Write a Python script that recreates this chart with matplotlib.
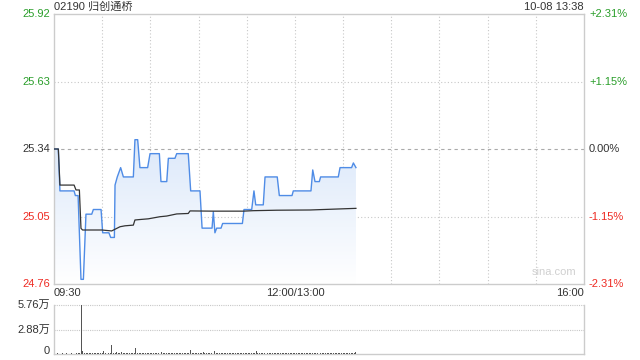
import matplotlib
matplotlib.use("Agg")
import matplotlib.pyplot as plt
import numpy as np
from matplotlib.patches import Polygon

plt.rcParams['font.family'] = ['Liberation Sans', 'Noto Sans CJK SC', 'DejaVu Sans']

# ---- data ----
title = "02190 归创通桥"
stamp = "10-08 13:38"
prev_close = 25.34
y_ticks = [24.76, 25.05, 25.34, 25.63, 25.92]
y_tick_labels = ["24.76", "25.05", "25.34", "25.63", "25.92"]
pct_labels = ["-2.31%", "-1.15%", "0.00%", "+1.15%", "+2.31%"]
x_tick_minutes = [0, 150, 330]
x_tick_labels = ["09:30", "12:00/13:00", "16:00"]

# price breakpoints (minutes since 09:30, lunch break removed)
price_t = [0, 2.7, 3.7, 12.5, 13.3, 15.0, 16.8, 18.3, 19.9, 23.5, 24.5, 29.3, 30.3,
           34.2, 35.3, 37.6, 38.0, 39.4, 41.5, 43.2, 49.4, 50.4, 52.1, 53.5, 58.3,
           59.8, 65.6, 66.6, 70.2, 71.2, 75.3, 76.4, 83.6, 85.1, 90.9, 92.2, 98.4,
           99.2, 100.2, 101.3, 104.0, 105.0, 117.3, 118.3, 123.1, 124.5, 125.6,
           130.3, 131.4, 139.0, 140.3, 148.2, 149.0, 160.0, 161.1, 162.5, 165.2,
           166.0, 177.0, 178.1, 185.3, 186.4, 188.0]
price_v = [25.34, 25.34, 25.16, 25.16, 25.14, 25.14, 24.78, 24.78, 25.06, 25.06, 25.08, 25.08, 24.98,
           24.98, 24.96, 24.96, 25.185, 25.22, 25.26, 25.22, 25.22, 25.38, 25.38, 25.26, 25.26,
           25.32, 25.32, 25.20, 25.20, 25.30, 25.30, 25.32, 25.32, 25.16, 25.16, 25.00, 25.00,
           25.07, 24.98, 25.00, 25.00, 25.02, 25.02, 25.08, 25.08, 25.16, 25.10,
           25.10, 25.22, 25.22, 25.14, 25.14, 25.16, 25.16, 25.25, 25.20, 25.20,
           25.22, 25.22, 25.26, 25.26, 25.28, 25.26]

avg_t = [0, 2.7, 3.7, 12.5, 13.7, 15.8, 16.8, 17.8, 29.7, 35.9, 41.1, 44.2, 49.4, 50.4,
         53.5, 58.7, 65.9, 70.2, 76.4, 83.6, 84.7, 99.2, 117.9, 124.1, 138.6, 159.4, 188.0]
avg_v = [25.34, 25.34, 25.185, 25.185, 25.164, 25.164, 24.999, 24.992, 24.992, 24.988, 25.006,
         25.010, 25.013, 25.035, 25.037, 25.040, 25.049, 25.052, 25.061, 25.063, 25.074,
         25.073, 25.073, 25.075, 25.077, 25.078, 25.085]

volume = [600, 500, 700, 400, 500, 600, 400, 500, 700, 500, 400, 600, 500, 400, 600, 700, 900, 57600, 3900, 1500,
          900, 700, 800, 600, 900, 700, 600, 800, 700, 900, 1200, 4000, 800, 700, 900, 1000, 11000, 1300, 900, 2500,
          1200, 900, 2000, 1100, 800, 1300, 900, 700, 1000, 800, 1200, 7000, 1000, 800, 900, 700, 1100, 800, 900, 700,
          800, 1000, 700, 900, 800, 1100, 900, 2000, 800, 700, 900, 1000, 800, 700, 1200, 900, 800, 1000, 700, 900,
          800, 700, 1000, 900, 800, 4700, 900, 700, 1100, 800, 900, 700, 1000, 2500, 800, 700, 900, 800, 700, 900,
          3000, 1000, 800, 700, 900, 800, 700, 900, 1000, 800, 700, 900, 800, 700, 800, 900, 700, 800, 900, 700,
          800, 700, 900, 800, 700, 800, 3000, 900, 800, 700, 800, 900, 700, 800, 700, 900, 800, 700, 800, 900,
          700, 800, 900, 700, 800, 700, 900, 800, 700, 800, 900, 700, 800, 900, 700, 800, 700, 900, 800, 700,
          800, 900, 700, 800, 700, 900, 800, 700, 800, 900, 700, 800, 700, 900, 800, 700, 800, 900, 700, 800,
          900, 700, 800, 700, 900, 800, 700, 900, 2000]
vol_ticks = [0, 28800, 57600]
vol_tick_labels = ["0", "2.88万", "5.76万"]

GREEN = '#2a9e2a'
RED = '#ee2a22'
DARK = '#333333'
GRID = '#c8c8c8'
BORDER = '#cccccc'
BLUE = '#4f8ce6'

fig = plt.figure(figsize=(6.4, 3.6), dpi=100)
ax = fig.add_axes([54/640, 1-284/360, 530/640, 270/360])
axv = fig.add_axes([54/640, 1-354/360, 530/640, 49/360])

xmin, xmax = 0, 330
ymin, ymax = y_ticks[0], y_ticks[-1]
ax.set_xlim(xmin, xmax)
ax.set_ylim(ymin, ymax)

# gradient fill under price
pt = np.array(price_t); pv = np.array(price_v)
poly_xy = np.column_stack([np.concatenate([pt, [pt[-1], pt[0]]]),
                           np.concatenate([pv, [ymin, ymin]])])
poly = Polygon(poly_xy, closed=True, facecolor='none', edgecolor='none')
ax.add_patch(poly)
grad = np.linspace(0, 1, 256).reshape(-1, 1)
top_c = np.array([0.86, 0.91, 0.98]); bot_c = np.array([1.0, 1.0, 1.0])
img = grad[::-1] * top_c + (1 - grad[::-1]) * bot_c  # top row first
img = np.repeat(img[:, None, :], 2, axis=1)
im = ax.imshow(img, extent=[pt[0], pt[-1], ymin, max(pv)], aspect='auto',
               origin='upper', zorder=1, interpolation='bilinear')
im.set_clip_path(poly)

# gridlines
for m in range(30, 330, 30):
    ax.axvline(m, color=GRID, lw=0.8, ls=(0, (1, 2)), zorder=0.5)
for y in [y_ticks[1], y_ticks[3]]:
    ax.axhline(y, color=GRID, lw=0.8, ls=(0, (1, 2)), zorder=0.5)
ax.axhline(prev_close, color='#aaaaaa', lw=0.8, ls=(0, (3, 3)), zorder=0.5)

ax.plot(price_t, price_v, color=BLUE, lw=1.0, zorder=3)
ax.plot(avg_t, avg_v, color=DARK, lw=0.9, zorder=4)

for s in ax.spines.values():
    s.set_color(BORDER); s.set_linewidth(1.0)
ax.set_xticks([]); ax.set_yticks([])

# y labels
colors = [RED, RED, DARK, GREEN, GREEN]
for y, lab, pl, c in zip(y_ticks, y_tick_labels, pct_labels, colors):
    ax.text(-4 * 330 / 530, y, lab, ha='right', va='center', fontsize=8, color=c,
            transform=ax.transData, clip_on=False)
    ax.text(xmax + 5 * 330 / 530, y, pl, ha='left', va='center', fontsize=8, color=c,
            transform=ax.transData, clip_on=False)

# x labels
has = ['left', 'center', 'right']
for m, lab, h in zip(x_tick_minutes, x_tick_labels, has):
    ax.text(m, ymin - 9 * 1.16 / 270, lab, ha=h, va='center', fontsize=8, color=DARK,
            clip_on=False)

fig.text(54/640, 1-7/360, title, ha='left', va='center', fontsize=8, color=DARK)
fig.text(584/640, 1-7/360, stamp, ha='right', va='center', fontsize=8, color=DARK)
ax.text(0.985, 0.025, "sina.com", transform=ax.transAxes, ha='right', va='bottom',
        fontsize=8, color='#d0d0d0')

# volume
axv.set_xlim(xmin, xmax)
axv.set_ylim(0, vol_ticks[-1])
axv.bar(np.arange(len(volume)), volume, width=0.6, color='#555555', zorder=3)
axv.axhline(vol_ticks[1], color=GRID, lw=0.8, ls=(0, (1, 1)))
axv.axhline(vol_ticks[2], color=GRID, lw=0.8, ls=(0, (1, 1)), clip_on=False)
axv.spines['top'].set_visible(False)
for k in ['left', 'right', 'bottom']:
    axv.spines[k].set_color(BORDER); axv.spines[k].set_linewidth(1.0)
axv.set_xticks([]); axv.set_yticks([])
for v, lab in zip(vol_ticks, vol_tick_labels):
    yy = v if v > 0 else 3500
    axv.text(-4 * 330 / 530, yy, lab, ha='right', va='center', fontsize=8, color=DARK,
             clip_on=False)

fig.savefig("out.png", dpi=100)
